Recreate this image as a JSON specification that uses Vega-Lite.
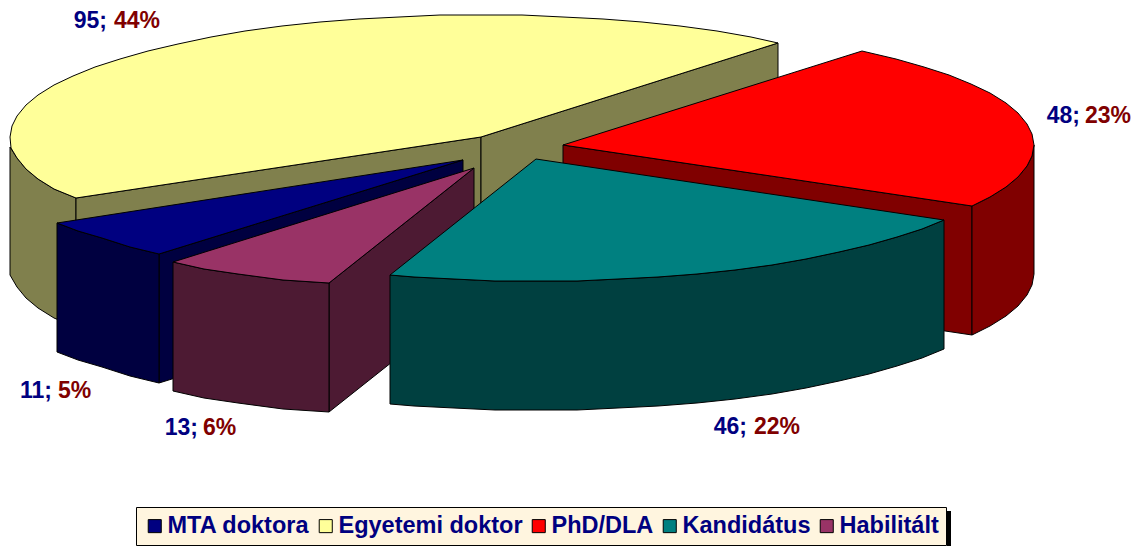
{
"$schema":"https://vega.github.io/schema/vega-lite/v6.json",
"width":1138,"height":546,"padding":0,"autosize":{"type":"none"},
"background":"white",
"config":{"view":{"stroke":null}},
"datasets":{
"shape":[
{"part":"Egyetemi doktor oldal","face":"y1","i":0,"x":10,"y":147},{"part":"Egyetemi doktor oldal","face":"y1","i":1,"x":17,"y":158},{"part":"Egyetemi doktor oldal","face":"y1","i":2,"x":26,"y":169},{"part":"Egyetemi doktor oldal","face":"y1","i":3,"x":38,"y":179},{"part":"Egyetemi doktor oldal","face":"y1","i":4,"x":54,"y":189},{"part":"Egyetemi doktor oldal","face":"y1","i":5,"x":76,"y":198},{"part":"Egyetemi doktor oldal","face":"y1","i":6,"x":76,"y":327},{"part":"Egyetemi doktor oldal","face":"y1","i":7,"x":54,"y":318},{"part":"Egyetemi doktor oldal","face":"y1","i":8,"x":38,"y":308},{"part":"Egyetemi doktor oldal","face":"y1","i":9,"x":26,"y":298},{"part":"Egyetemi doktor oldal","face":"y1","i":10,"x":17,"y":287},{"part":"Egyetemi doktor oldal","face":"y1","i":11,"x":10,"y":275},{"part":"Egyetemi doktor oldal","face":"y1","i":12,"x":10,"y":147},
{"part":"Egyetemi doktor oldal","face":"y2","i":0,"x":481,"y":137},{"part":"Egyetemi doktor oldal","face":"y2","i":1,"x":76,"y":198},{"part":"Egyetemi doktor oldal","face":"y2","i":2,"x":76,"y":327},{"part":"Egyetemi doktor oldal","face":"y2","i":3,"x":481,"y":266},{"part":"Egyetemi doktor oldal","face":"y2","i":4,"x":481,"y":137},
{"part":"Egyetemi doktor oldal","face":"y3","i":0,"x":481,"y":137},{"part":"Egyetemi doktor oldal","face":"y3","i":1,"x":778,"y":43},{"part":"Egyetemi doktor oldal","face":"y3","i":2,"x":778,"y":172},{"part":"Egyetemi doktor oldal","face":"y3","i":3,"x":481,"y":266},{"part":"Egyetemi doktor oldal","face":"y3","i":4,"x":481,"y":137},
{"part":"Egyetemi doktor","face":"y4","i":0,"x":481,"y":137},{"part":"Egyetemi doktor","face":"y4","i":1,"x":76,"y":198},{"part":"Egyetemi doktor","face":"y4","i":2,"x":54,"y":189},{"part":"Egyetemi doktor","face":"y4","i":3,"x":38,"y":179},{"part":"Egyetemi doktor","face":"y4","i":4,"x":26,"y":169},{"part":"Egyetemi doktor","face":"y4","i":5,"x":17,"y":158},{"part":"Egyetemi doktor","face":"y4","i":6,"x":11,"y":148},{"part":"Egyetemi doktor","face":"y4","i":7,"x":10,"y":137},{"part":"Egyetemi doktor","face":"y4","i":8,"x":12,"y":126},{"part":"Egyetemi doktor","face":"y4","i":9,"x":17,"y":116},{"part":"Egyetemi doktor","face":"y4","i":10,"x":26,"y":105},{"part":"Egyetemi doktor","face":"y4","i":11,"x":38,"y":95},{"part":"Egyetemi doktor","face":"y4","i":12,"x":54,"y":85},{"part":"Egyetemi doktor","face":"y4","i":13,"x":73,"y":76},{"part":"Egyetemi doktor","face":"y4","i":14,"x":95,"y":67},{"part":"Egyetemi doktor","face":"y4","i":15,"x":120,"y":59},{"part":"Egyetemi doktor","face":"y4","i":16,"x":148,"y":51},{"part":"Egyetemi doktor","face":"y4","i":17,"x":178,"y":44},{"part":"Egyetemi doktor","face":"y4","i":18,"x":211,"y":37},{"part":"Egyetemi doktor","face":"y4","i":19,"x":245,"y":31},{"part":"Egyetemi doktor","face":"y4","i":20,"x":282,"y":26},{"part":"Egyetemi doktor","face":"y4","i":21,"x":320,"y":22},{"part":"Egyetemi doktor","face":"y4","i":22,"x":359,"y":19},{"part":"Egyetemi doktor","face":"y4","i":23,"x":399,"y":17},{"part":"Egyetemi doktor","face":"y4","i":24,"x":440,"y":15},{"part":"Egyetemi doktor","face":"y4","i":25,"x":481,"y":15},{"part":"Egyetemi doktor","face":"y4","i":26,"x":522,"y":15},{"part":"Egyetemi doktor","face":"y4","i":27,"x":563,"y":17},{"part":"Egyetemi doktor","face":"y4","i":28,"x":603,"y":19},{"part":"Egyetemi doktor","face":"y4","i":29,"x":642,"y":22},{"part":"Egyetemi doktor","face":"y4","i":30,"x":680,"y":26},{"part":"Egyetemi doktor","face":"y4","i":31,"x":717,"y":31},{"part":"Egyetemi doktor","face":"y4","i":32,"x":751,"y":37},{"part":"Egyetemi doktor","face":"y4","i":33,"x":778,"y":43},{"part":"Egyetemi doktor","face":"y4","i":34,"x":481,"y":137},
{"part":"PhD/DLA oldal","face":"r1","i":0,"x":563,"y":145},{"part":"PhD/DLA oldal","face":"r1","i":1,"x":972,"y":206},{"part":"PhD/DLA oldal","face":"r1","i":2,"x":972,"y":335},{"part":"PhD/DLA oldal","face":"r1","i":3,"x":563,"y":274},{"part":"PhD/DLA oldal","face":"r1","i":4,"x":563,"y":145},
{"part":"PhD/DLA oldal","face":"r2","i":0,"x":1034,"y":145},{"part":"PhD/DLA oldal","face":"r2","i":1,"x":1032,"y":156},{"part":"PhD/DLA oldal","face":"r2","i":2,"x":1027,"y":166},{"part":"PhD/DLA oldal","face":"r2","i":3,"x":1018,"y":177},{"part":"PhD/DLA oldal","face":"r2","i":4,"x":1006,"y":187},{"part":"PhD/DLA oldal","face":"r2","i":5,"x":990,"y":197},{"part":"PhD/DLA oldal","face":"r2","i":6,"x":972,"y":206},{"part":"PhD/DLA oldal","face":"r2","i":7,"x":972,"y":335},{"part":"PhD/DLA oldal","face":"r2","i":8,"x":990,"y":326},{"part":"PhD/DLA oldal","face":"r2","i":9,"x":1006,"y":316},{"part":"PhD/DLA oldal","face":"r2","i":10,"x":1018,"y":306},{"part":"PhD/DLA oldal","face":"r2","i":11,"x":1027,"y":295},{"part":"PhD/DLA oldal","face":"r2","i":12,"x":1032,"y":285},{"part":"PhD/DLA oldal","face":"r2","i":13,"x":1034,"y":274},{"part":"PhD/DLA oldal","face":"r2","i":14,"x":1034,"y":145},
{"part":"PhD/DLA","face":"r3","i":0,"x":563,"y":145},{"part":"PhD/DLA","face":"r3","i":1,"x":862,"y":51},{"part":"PhD/DLA","face":"r3","i":2,"x":896,"y":59},{"part":"PhD/DLA","face":"r3","i":3,"x":924,"y":67},{"part":"PhD/DLA","face":"r3","i":4,"x":949,"y":75},{"part":"PhD/DLA","face":"r3","i":5,"x":971,"y":84},{"part":"PhD/DLA","face":"r3","i":6,"x":990,"y":93},{"part":"PhD/DLA","face":"r3","i":7,"x":1006,"y":103},{"part":"PhD/DLA","face":"r3","i":8,"x":1018,"y":113},{"part":"PhD/DLA","face":"r3","i":9,"x":1027,"y":124},{"part":"PhD/DLA","face":"r3","i":10,"x":1032,"y":134},{"part":"PhD/DLA","face":"r3","i":11,"x":1034,"y":145},{"part":"PhD/DLA","face":"r3","i":12,"x":1032,"y":156},{"part":"PhD/DLA","face":"r3","i":13,"x":1027,"y":166},{"part":"PhD/DLA","face":"r3","i":14,"x":1018,"y":177},{"part":"PhD/DLA","face":"r3","i":15,"x":1006,"y":187},{"part":"PhD/DLA","face":"r3","i":16,"x":990,"y":197},{"part":"PhD/DLA","face":"r3","i":17,"x":972,"y":206},{"part":"PhD/DLA","face":"r3","i":18,"x":563,"y":145},
{"part":"MTA doktora oldal","face":"n1","i":0,"x":463,"y":160},{"part":"MTA doktora oldal","face":"n1","i":1,"x":159,"y":254},{"part":"MTA doktora oldal","face":"n1","i":2,"x":159,"y":383},{"part":"MTA doktora oldal","face":"n1","i":3,"x":463,"y":289},{"part":"MTA doktora oldal","face":"n1","i":4,"x":463,"y":160},
{"part":"MTA doktora oldal","face":"n2","i":0,"x":57,"y":223},{"part":"MTA doktora oldal","face":"n2","i":1,"x":78,"y":231},{"part":"MTA doktora oldal","face":"n2","i":2,"x":102,"y":238},{"part":"MTA doktora oldal","face":"n2","i":3,"x":130,"y":247},{"part":"MTA doktora oldal","face":"n2","i":4,"x":159,"y":254},{"part":"MTA doktora oldal","face":"n2","i":5,"x":159,"y":383},{"part":"MTA doktora oldal","face":"n2","i":6,"x":130,"y":376},{"part":"MTA doktora oldal","face":"n2","i":7,"x":102,"y":367},{"part":"MTA doktora oldal","face":"n2","i":8,"x":78,"y":360},{"part":"MTA doktora oldal","face":"n2","i":9,"x":57,"y":352},{"part":"MTA doktora oldal","face":"n2","i":10,"x":57,"y":223},
{"part":"MTA doktora","face":"n3","i":0,"x":463,"y":160},{"part":"MTA doktora","face":"n3","i":1,"x":57,"y":223},{"part":"MTA doktora","face":"n3","i":2,"x":78,"y":231},{"part":"MTA doktora","face":"n3","i":3,"x":102,"y":238},{"part":"MTA doktora","face":"n3","i":4,"x":130,"y":247},{"part":"MTA doktora","face":"n3","i":5,"x":159,"y":254},{"part":"MTA doktora","face":"n3","i":6,"x":463,"y":160},
{"part":"Habilitált oldal","face":"p1","i":0,"x":474,"y":168},{"part":"Habilitált oldal","face":"p1","i":1,"x":329,"y":283},{"part":"Habilitált oldal","face":"p1","i":2,"x":329,"y":412},{"part":"Habilitált oldal","face":"p1","i":3,"x":474,"y":297},{"part":"Habilitált oldal","face":"p1","i":4,"x":474,"y":168},
{"part":"Habilitált oldal","face":"p2","i":0,"x":173,"y":262},{"part":"Habilitált oldal","face":"p2","i":1,"x":204,"y":269},{"part":"Habilitált oldal","face":"p2","i":2,"x":238,"y":274},{"part":"Habilitált oldal","face":"p2","i":3,"x":283,"y":280},{"part":"Habilitált oldal","face":"p2","i":4,"x":329,"y":283},{"part":"Habilitált oldal","face":"p2","i":5,"x":329,"y":412},{"part":"Habilitált oldal","face":"p2","i":6,"x":283,"y":409},{"part":"Habilitált oldal","face":"p2","i":7,"x":238,"y":403},{"part":"Habilitált oldal","face":"p2","i":8,"x":204,"y":398},{"part":"Habilitált oldal","face":"p2","i":9,"x":173,"y":391},{"part":"Habilitált oldal","face":"p2","i":10,"x":173,"y":262},
{"part":"Habilitált","face":"p3","i":0,"x":474,"y":168},{"part":"Habilitált","face":"p3","i":1,"x":173,"y":262},{"part":"Habilitált","face":"p3","i":2,"x":204,"y":269},{"part":"Habilitált","face":"p3","i":3,"x":238,"y":274},{"part":"Habilitált","face":"p3","i":4,"x":283,"y":280},{"part":"Habilitált","face":"p3","i":5,"x":329,"y":283},{"part":"Habilitált","face":"p3","i":6,"x":474,"y":168},
{"part":"Kandidátus oldal","face":"t1","i":0,"x":390,"y":275},{"part":"Kandidátus oldal","face":"t1","i":1,"x":414,"y":277},{"part":"Kandidátus oldal","face":"t1","i":2,"x":454,"y":279},{"part":"Kandidátus oldal","face":"t1","i":3,"x":495,"y":281},{"part":"Kandidátus oldal","face":"t1","i":4,"x":536,"y":281},{"part":"Kandidátus oldal","face":"t1","i":5,"x":577,"y":281},{"part":"Kandidátus oldal","face":"t1","i":6,"x":618,"y":279},{"part":"Kandidátus oldal","face":"t1","i":7,"x":658,"y":277},{"part":"Kandidátus oldal","face":"t1","i":8,"x":697,"y":274},{"part":"Kandidátus oldal","face":"t1","i":9,"x":735,"y":270},{"part":"Kandidátus oldal","face":"t1","i":10,"x":772,"y":265},{"part":"Kandidátus oldal","face":"t1","i":11,"x":806,"y":259},{"part":"Kandidátus oldal","face":"t1","i":12,"x":839,"y":252},{"part":"Kandidátus oldal","face":"t1","i":13,"x":869,"y":245},{"part":"Kandidátus oldal","face":"t1","i":14,"x":897,"y":237},{"part":"Kandidátus oldal","face":"t1","i":15,"x":922,"y":229},{"part":"Kandidátus oldal","face":"t1","i":16,"x":944,"y":220},{"part":"Kandidátus oldal","face":"t1","i":17,"x":944,"y":349},{"part":"Kandidátus oldal","face":"t1","i":18,"x":922,"y":358},{"part":"Kandidátus oldal","face":"t1","i":19,"x":897,"y":366},{"part":"Kandidátus oldal","face":"t1","i":20,"x":869,"y":374},{"part":"Kandidátus oldal","face":"t1","i":21,"x":839,"y":381},{"part":"Kandidátus oldal","face":"t1","i":22,"x":806,"y":388},{"part":"Kandidátus oldal","face":"t1","i":23,"x":772,"y":394},{"part":"Kandidátus oldal","face":"t1","i":24,"x":735,"y":399},{"part":"Kandidátus oldal","face":"t1","i":25,"x":697,"y":403},{"part":"Kandidátus oldal","face":"t1","i":26,"x":658,"y":406},{"part":"Kandidátus oldal","face":"t1","i":27,"x":618,"y":408},{"part":"Kandidátus oldal","face":"t1","i":28,"x":577,"y":410},{"part":"Kandidátus oldal","face":"t1","i":29,"x":536,"y":410},{"part":"Kandidátus oldal","face":"t1","i":30,"x":495,"y":410},{"part":"Kandidátus oldal","face":"t1","i":31,"x":454,"y":408},{"part":"Kandidátus oldal","face":"t1","i":32,"x":414,"y":406},{"part":"Kandidátus oldal","face":"t1","i":33,"x":390,"y":404},{"part":"Kandidátus oldal","face":"t1","i":34,"x":390,"y":275},
{"part":"Kandidátus","face":"t2","i":0,"x":536,"y":159},{"part":"Kandidátus","face":"t2","i":1,"x":944,"y":220},{"part":"Kandidátus","face":"t2","i":2,"x":922,"y":229},{"part":"Kandidátus","face":"t2","i":3,"x":897,"y":237},{"part":"Kandidátus","face":"t2","i":4,"x":869,"y":245},{"part":"Kandidátus","face":"t2","i":5,"x":839,"y":252},{"part":"Kandidátus","face":"t2","i":6,"x":806,"y":259},{"part":"Kandidátus","face":"t2","i":7,"x":772,"y":265},{"part":"Kandidátus","face":"t2","i":8,"x":735,"y":270},{"part":"Kandidátus","face":"t2","i":9,"x":697,"y":274},{"part":"Kandidátus","face":"t2","i":10,"x":658,"y":277},{"part":"Kandidátus","face":"t2","i":11,"x":618,"y":279},{"part":"Kandidátus","face":"t2","i":12,"x":577,"y":281},{"part":"Kandidátus","face":"t2","i":13,"x":536,"y":281},{"part":"Kandidátus","face":"t2","i":14,"x":495,"y":281},{"part":"Kandidátus","face":"t2","i":15,"x":454,"y":279},{"part":"Kandidátus","face":"t2","i":16,"x":414,"y":277},{"part":"Kandidátus","face":"t2","i":17,"x":390,"y":275},{"part":"Kandidátus","face":"t2","i":18,"x":536,"y":159}
],
"labels":[
{"slice":"Egyetemi doktor","count":"95;","pct":"44%","xc":107,"xp":114,"y":21},
{"slice":"PhD/DLA","count":"48;","pct":"23%","xc":1080,"xp":1085,"y":116},
{"slice":"Kandidátus","count":"46;","pct":"22%","xc":747,"xp":754,"y":427},
{"slice":"Habilitált","count":"13;","pct":"6%","xc":198,"xp":203,"y":428},
{"slice":"MTA doktora","count":"11;","pct":"5%","xc":52,"xp":58,"y":391}
],
"legendShadow":[{"x":947,"x2":951,"y":511,"y2":546}]
},
"layer":[
{"data":{"name":"shape"},
"mark":{"type":"line","filled":true,"stroke":"black","strokeWidth":1,"interpolate":"linear"},
"encoding":{
"x":{"field":"x","type":"quantitative","scale":{"domain":[0,1138],"nice":false,"zero":false},"axis":null},
"y":{"field":"y","type":"quantitative","scale":{"domain":[546,0],"nice":false,"zero":false},"axis":null},
"order":{"field":"i","type":"quantitative"},
"detail":{"field":"face"},
"color":{"field":"part","type":"nominal",
"scale":{"domain":["MTA doktora","Egyetemi doktor","PhD/DLA","Kandidátus","Habilitált","MTA doktora oldal","Egyetemi doktor oldal","PhD/DLA oldal","Kandidátus oldal","Habilitált oldal"],
"range":["#000080","#FFFF99","#FF0000","#008080","#993366","#000040","#80804D","#800000","#004040","#4D1A33"]},
"legend":{"title":null,"orient":"none","legendX":136,"legendY":507,"direction":"horizontal","columns":5,
"values":["MTA doktora","Egyetemi doktor","PhD/DLA","Kandidátus","Habilitált"],
"symbolType":"square","symbolSize":170,"symbolStrokeColor":"black","symbolStrokeWidth":1,"symbolOpacity":1,
"labelFont":"Liberation Sans","labelFontSize":23.5,"labelFontWeight":"bold","labelColor":"#000080","labelLimit":300,
"fillColor":"#FFF5DF","strokeColor":"black","padding":7,"columnPadding":4,"labelOffset":1}}
}},
{"data":{"name":"legendShadow"},"mark":{"type":"rect","color":"black"},
"encoding":{"x":{"field":"x","type":"quantitative"},"x2":{"field":"x2"},"y":{"field":"y","type":"quantitative"},"y2":{"field":"y2"}}},
{"data":{"name":"labels"},"mark":{"type":"text","align":"right","baseline":"middle","font":"Liberation Sans","fontSize":23,"fontWeight":"bold","color":"#000080"},
"encoding":{"x":{"field":"xc","type":"quantitative"},"y":{"field":"y","type":"quantitative"},"text":{"field":"count"}}},
{"data":{"name":"labels"},"mark":{"type":"text","align":"left","baseline":"middle","font":"Liberation Sans","fontSize":23,"fontWeight":"bold","color":"#800000"},
"encoding":{"x":{"field":"xp","type":"quantitative"},"y":{"field":"y","type":"quantitative"},"text":{"field":"pct"}}}
]
}
